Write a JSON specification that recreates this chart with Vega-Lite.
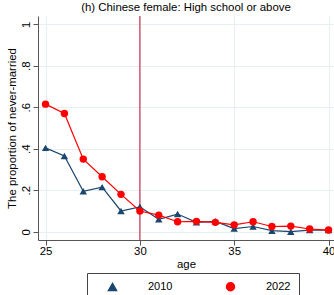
{
  "$schema": "https://vega.github.io/schema/vega-lite/v6.json",
  "width": 296,
  "height": 224,
  "autosize": {"type": "none"},
  "padding": {"left": 38, "top": 16, "right": 0, "bottom": 55},
  "background": "white",
  "title": {"text": "(h) Chinese female: High school or above", "fontSize": 11.4, "font": "Liberation Sans", "fontWeight": "normal", "color": "#000000", "offset": 2, "anchor": "middle"},
  "config": {"view": {"stroke": null}, "font": "Liberation Sans"},
  "datasets": {
    "series": [
      {"age": 25, "p": 0.404, "year": "2010"},
      {"age": 26, "p": 0.365, "year": "2010"},
      {"age": 27, "p": 0.195, "year": "2010"},
      {"age": 28, "p": 0.215, "year": "2010"},
      {"age": 29, "p": 0.1, "year": "2010"},
      {"age": 30, "p": 0.12, "year": "2010"},
      {"age": 31, "p": 0.06, "year": "2010"},
      {"age": 32, "p": 0.085, "year": "2010"},
      {"age": 33, "p": 0.045, "year": "2010"},
      {"age": 34, "p": 0.05, "year": "2010"},
      {"age": 35, "p": 0.015, "year": "2010"},
      {"age": 36, "p": 0.025, "year": "2010"},
      {"age": 37, "p": 0.005, "year": "2010"},
      {"age": 38, "p": 0.0, "year": "2010"},
      {"age": 39, "p": 0.008, "year": "2010"},
      {"age": 40, "p": 0.008, "year": "2010"},
      {"age": 25, "p": 0.615, "year": "2022"},
      {"age": 26, "p": 0.57, "year": "2022"},
      {"age": 27, "p": 0.35, "year": "2022"},
      {"age": 28, "p": 0.265, "year": "2022"},
      {"age": 29, "p": 0.18, "year": "2022"},
      {"age": 30, "p": 0.1, "year": "2022"},
      {"age": 31, "p": 0.08, "year": "2022"},
      {"age": 32, "p": 0.048, "year": "2022"},
      {"age": 33, "p": 0.05, "year": "2022"},
      {"age": 34, "p": 0.045, "year": "2022"},
      {"age": 35, "p": 0.033, "year": "2022"},
      {"age": 36, "p": 0.048, "year": "2022"},
      {"age": 37, "p": 0.025, "year": "2022"},
      {"age": 38, "p": 0.027, "year": "2022"},
      {"age": 39, "p": 0.013, "year": "2022"},
      {"age": 40, "p": 0.008, "year": "2022"}
    ],
    "ref": [{"age": 30}]
  },
  "layer": [
    {
      "data": {"name": "ref"},
      "mark": {"type": "rule", "color": "#cc3355", "strokeWidth": 1.2},
      "encoding": {
        "x": {"field": "age", "type": "quantitative",
          "scale": {"domain": [24.6, 40.29], "nice": false, "zero": false},
          "axis": {"values": [25, 30, 35, 40], "title": "age", "grid": true, "gridColor": "#e6eff1", "gridWidth": 1, "tickSize": 5, "tickColor": "#555555", "domainColor": "#555555", "labelFontSize": 11.4, "labelColor": "#000000", "labelPadding": 0, "titleFontSize": 11.4, "titleFontWeight": "normal", "titleColor": "#000000", "titlePadding": 2, "labelFlush": false}}
      }
    },
    {
      "data": {"name": "series"},
      "mark": {"type": "line", "strokeWidth": 1.2},
      "encoding": {
        "x": {"field": "age", "type": "quantitative"},
        "y": {"field": "p", "type": "quantitative",
          "scale": {"domain": [-0.04, 1.04], "nice": false, "zero": false},
          "axis": {"values": [0, 0.2, 0.4, 0.6, 0.8, 1], "title": "The proportion of never-married", "labelExpr": "datum.value == 0 ? '0' : datum.value == 1 ? '1' : replace(format(datum.value, '.1f'), '0.', '.')", "labelAngle": 270, "labelAlign": "center", "labelBaseline": "bottom", "grid": true, "gridColor": "#e6eff1", "gridWidth": 1, "tickSize": 5, "tickColor": "#555555", "domainColor": "#555555", "labelFontSize": 11.4, "labelColor": "#000000", "labelPadding": 2, "titleFontSize": 11.4, "titleFontWeight": "normal", "titleColor": "#000000", "titlePadding": 3, "labelFlush": false}},
        "color": {"field": "year", "type": "nominal", "scale": {"domain": ["2010", "2022"], "range": ["#1a476f", "#ff0000"]}}
      }
    },
    {
      "data": {"name": "series"},
      "mark": {"type": "point", "filled": true, "opacity": 1, "size": 55},
      "encoding": {
        "x": {"field": "age", "type": "quantitative"},
        "y": {"field": "p", "type": "quantitative"},
        "color": {"field": "year", "type": "nominal", "scale": {"domain": ["2010", "2022"], "range": ["#1a476f", "#ff0000"]},
          "legend": {"orient": "none", "legendX": 49, "legendY": 257, "direction": "horizontal", "columns": 2, "title": null, "strokeColor": "#444444", "fillColor": "#ffffff", "padding": 8, "symbolSize": 64, "symbolOffset": 12, "labelOffset": 30, "columnPadding": 40, "labelFontSize": 11, "labelColor": "#000000",
            "encode": {"symbols": {
              "size": {"value": 55},
              "opacity": {"value": 1}
            }}}},
        "shape": {"field": "year", "type": "nominal", "scale": {"domain": ["2010", "2022"], "range": ["triangle-up", "circle"]}, "legend": null}
      }
    }
  ]
}
